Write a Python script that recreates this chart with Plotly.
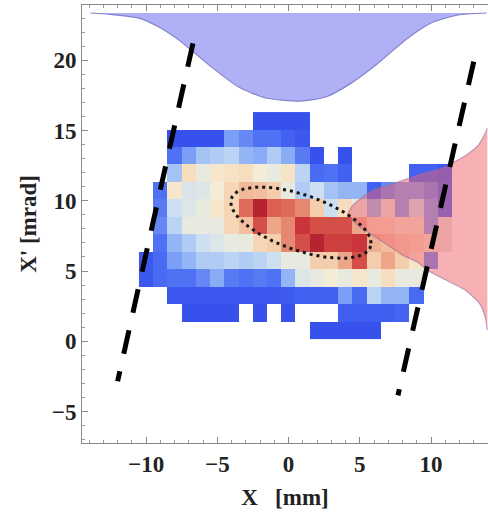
import math
import plotly.graph_objects as go

# ---------------- data ----------------
x_bins = [-10, -9, -8, -7, -6, -5, -4, -3, -2, -1, 0, 1, 2, 3, 4, 5, 6, 7, 8, 9, 10, 11]
xp_bins = [0.81, 2.05, 3.29, 4.53, 5.77, 7.01, 8.25, 9.49, 10.73, 11.97, 13.21, 14.45, 15.69]

# relative density, rows from bottom (xp=0.81) to top (xp=15.69); 0 = empty bin
density = [
    [0, 0, 0, 0, 0, 0, 0, 0, 0, 0, 0, 0, .10, .10, .10, .10, .10, 0, 0, 0, 0, 0],
    [0, 0, 0, .10, .10, .10, .10, 0, .10, 0, .10, 0, 0, 0, .14, .14, .14, .14, .16, 0, 0, 0],
    [0, 0, .12, .12, .12, .12, .12, .12, .12, .12, .13, .15, .15, .15, .30, .18, .42, .35, .35, .18, 0, 0],
    [.12, .18, .20, .20, .25, .33, .22, .20, .22, .20, .35, .48, .50, .52, .50, .55, .50, .58, .50, .50, 0, 0],
    [.12, .18, .30, .35, .40, .40, .42, .40, .42, .45, .50, .50, .62, .62, .70, .85, .62, .70, .62, .55, .25, 0],
    [0, .20, .35, .40, .45, .48, .50, .50, .60, .62, .75, .85, .95, .88, .88, .90, .68, .65, .62, .60, .55, .50],
    [0, .25, .42, .50, .50, .50, .60, .65, .85, .70, .75, .90, .85, .85, .85, .70, .60, .60, .55, .55, .30, .50],
    [0, .22, .45, .48, .50, .55, .60, .80, .95, .82, .80, .75, .62, .45, .58, .50, .35, .50, .30, .45, .30, .15],
    [0, .20, .55, .47, .48, .52, .60, .66, .65, .62, .50, .40, .45, .38, .35, .35, .15, .25, .30, .30, .25, .15],
    [0, 0, .38, .58, .50, .55, .56, .58, .52, .50, .56, .42, .18, .20, .15, 0, 0, 0, 0, .15, .15, .12],
    [0, 0, .20, .30, .38, .40, .42, .35, .33, .40, .33, .22, .10, 0, .10, 0, 0, 0, 0, 0, 0, 0],
    [0, 0, .10, .10, .10, .10, .30, .25, .20, .20, .15, .12, 0, 0, 0, 0, 0, 0, 0, 0, 0, 0],
    [0, 0, 0, 0, 0, 0, 0, 0, .10, .10, .10, .10, 0, 0, 0, 0, 0, 0, 0, 0, 0, 0],
]

# projection onto X (hanging from the top frame), depth in mrad
top_profile_x = [-13.9, -12.5, -10.5, -9.1, -7.7, -5.4, -3.5, -1.6, 0.8, 2.6, 4.4, 6.3, 8.2, 10.0, 11.9, 13.9]
top_profile_depth = [0.0, 0.1, 0.36, 1.0, 1.93, 3.85, 5.27, 6.05, 6.27, 5.98, 4.99, 3.56, 1.92, 0.71, 0.14, 0.0]
top_baseline = 23.36

# projection onto X' (hanging from the right frame), depth in mm
right_profile_y = [15.17, 14.67, 13.96, 13.25, 12.68, 12.32, 11.82, 11.32, 10.75, 10.26, 9.69, 8.97,
                   8.26, 7.55, 6.84, 6.13, 5.63, 5.06, 4.34, 3.63, 2.71, 1.71, 0.78]
right_profile_depth = [0.0, 0.21, 0.63, 1.47, 2.45, 3.15, 4.9, 6.3, 8.04, 8.74, 9.44, 9.79,
                       9.09, 8.04, 6.99, 5.94, 4.9, 4.2, 2.87, 1.54, 0.56, 0.14, 0.0]
right_baseline = 13.95

# acceptance guide lines (top end first)
guide_left_x = [-6.71, -12.0]
guide_left_y = [21.2, -2.85]
guide_right_x = [13.0, 7.68]
guide_right_y = [19.9, -3.85]

# rms ellipse parameters
ell_cx, ell_cy = 0.87, 8.44
ell_a, ell_b, ell_c = 4.93, -1.46, 2.07

x_ticks = [-10, -5, 0, 5, 10]
y_ticks = [-5, 0, 5, 10, 15, 20]

# ---------------- figure ----------------
z = [[(v if v > 0 else None) for v in row] for row in density]

colorscale = [
    [0.0, "rgb(44,66,232)"],
    [0.15, "rgb(76,110,244)"],
    [0.3, "rgb(138,175,246)"],
    [0.42, "rgb(204,224,242)"],
    [0.5, "rgb(246,238,214)"],
    [0.58, "rgb(246,214,180)"],
    [0.68, "rgb(238,168,138)"],
    [0.8, "rgb(222,100,86)"],
    [0.9, "rgb(200,50,56)"],
    [1.0, "rgb(165,20,42)"],
]

fig = go.Figure()

fig.add_trace(go.Heatmap(
    x=x_bins, y=xp_bins, z=z, colorscale=colorscale, zmin=0.05, zmax=1.0,
    showscale=False, hoverongaps=False, xgap=0, ygap=0,
))

# top profile
tx = [top_profile_x[0]] + top_profile_x + [top_profile_x[-1]]
ty = [top_baseline] + [top_baseline - d for d in top_profile_depth] + [top_baseline]
fig.add_trace(go.Scatter(
    x=tx, y=ty, mode="lines", fill="toself",
    fillcolor="rgb(176,176,246)", line=dict(color="rgb(130,130,205)", width=1.2, shape="spline", smoothing=0.6),
    showlegend=False, hoverinfo="skip",
))

# right profile
rx = [right_baseline] + [right_baseline - d for d in right_profile_depth] + [right_baseline]
ry = [right_profile_y[0]] + right_profile_y + [right_profile_y[-1]]
fig.add_trace(go.Scatter(
    x=rx, y=ry, mode="lines", fill="toself",
    fillcolor="rgba(240,98,106,0.5)", line=dict(color="rgba(160,110,160,0.6)", width=1.2, shape="spline", smoothing=0.6),
    showlegend=False, hoverinfo="skip",
))

# ellipse
n = 120
ex = [ell_cx + ell_a * math.cos(2 * math.pi * k / n) for k in range(n + 1)]
ey = [ell_cy + ell_b * math.cos(2 * math.pi * k / n) + ell_c * math.sin(2 * math.pi * k / n) for k in range(n + 1)]
fig.add_trace(go.Scatter(
    x=ex, y=ey, mode="lines", line=dict(color="rgb(20,20,20)", width=3, dash="3px,4px"),
    showlegend=False, hoverinfo="skip",
))

for gx, gy in ((guide_left_x, guide_left_y), (guide_right_x, guide_right_y)):
    fig.add_trace(go.Scatter(
        x=gx, y=gy, mode="lines", line=dict(color="black", width=5, dash="24px,18px"),
        showlegend=False, hoverinfo="skip",
    ))

font_main = dict(family="Liberation Serif", size=23, color="#222", weight="bold")
axis_common = dict(
    showgrid=False, zeroline=False, showline=True, linecolor="#8a8a8a", linewidth=1,
    ticks="inside", ticklen=6, tickcolor="#8a8a8a", tickwidth=1,
    minor=dict(dtick=1, ticks="inside", ticklen=3, tickcolor="#9a9a9a", tickwidth=1),
    tickfont=font_main,
)

fig.update_layout(
    width=488, height=514,
    margin=dict(l=82, r=0, t=5, b=71),
    paper_bgcolor="white", plot_bgcolor="white",
    xaxis=dict(range=[-14.5, 14.0], tickvals=x_ticks, mirror="ticks",
               title=dict(text="X\u00a0\u00a0\u00a0[mm]", font=font_main, standoff=13),
               **axis_common),
    yaxis=dict(range=[-7.24, 23.93], tickvals=y_ticks,
               title=dict(text="X' [mrad]", font=font_main, standoff=8),
               **axis_common),
)

fig.write_html("out.html")
